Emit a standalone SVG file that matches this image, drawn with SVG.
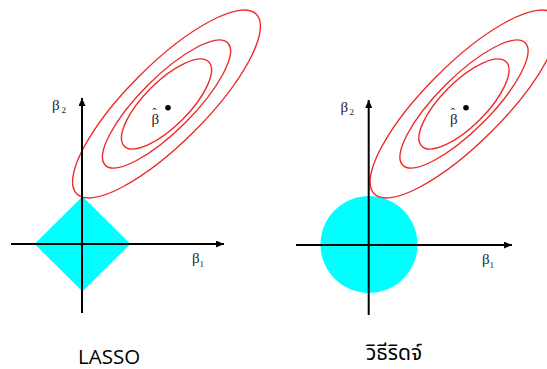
<svg xmlns="http://www.w3.org/2000/svg" width="547" height="369" viewBox="0 0 547 369">
<style>
  .bg { fill: #ffffff; }
  .region { fill: #00ffff; stroke: none; }
  .axis { stroke: #000000; stroke-width: 2; fill: none; }
  .contour { fill: none; stroke: #ee2a2a; stroke-width: 1.4; }
  .beta { font-family: "Liberation Serif", "DejaVu Serif", serif; font-size: 15px; fill: #22222e; }
  .sub { font-family: "Liberation Serif", "DejaVu Serif", serif; font-size: 9px; fill: #22222e; }
  .hat { font-size: 13px; }
  .title { font-family: "Open Sans", "Noto Sans", "Liberation Sans", sans-serif; font-size: 20.5px; fill: #000000; }
  .thai { font-family: "Noto Sans Thai", "Noto Sans Thai Looped", "Tahoma", "DejaVu Sans", "Noto Sans", sans-serif; font-size: 21px; fill: #000000; }
</style>
<defs>
  <marker id="arrow" markerUnits="userSpaceOnUse" markerWidth="9" markerHeight="8" refX="8" refY="3.5" orient="auto">
    <path d="M0,0 L8,3.5 L0,7 z" fill="#000000"/>
  </marker>
</defs>
<rect class="bg" x="0" y="0" width="547" height="369"/>

<!-- LASSO panel -->
<g id="lasso-region">
  <polygon class="region" points="82.5,196.5 130.5,244 82.5,291.5 34.5,244"/>
</g>
<g id="lasso-contours">
  <ellipse class="contour" cx="166.5" cy="104" rx="127" ry="39" transform="rotate(-45 166.5 104)"/>
  <ellipse class="contour" cx="166.5" cy="104" rx="86.5" ry="26.5" transform="rotate(-45 166.5 104)"/>
  <ellipse class="contour" cx="166.5" cy="104" rx="59.6" ry="22.3" transform="rotate(-45 166.5 104)"/>
</g>
<g id="lasso-axes" class="connectors">
  <line class="axis" x1="82" y1="313" x2="82" y2="98" marker-end="url(#arrow)"/>
  <line class="axis" x1="11" y1="244" x2="224" y2="244" marker-end="url(#arrow)"/>
</g>
<g id="lasso-labels">
  <text class="beta" x="52" y="110">β</text><text class="sub" x="61.5" y="113">2</text>
  <text class="beta" x="192" y="263">β</text><text class="sub" x="199.5" y="267">1</text>
  <text class="beta" x="151.5" y="124">β<tspan class="hat" dx="-6.8" dy="-7">ˆ</tspan></text>
  <circle cx="168" cy="107.7" r="2.8" fill="#000000"/>
  <text class="title" x="78" y="364">LASSO</text>
</g>

<!-- Ridge panel -->
<g id="ridge-region">
  <circle class="region" cx="369" cy="244.5" r="48.5"/>
</g>
<g id="ridge-contours">
  <ellipse class="contour" cx="464" cy="104" rx="127" ry="39" transform="rotate(-45 464 104)"/>
  <ellipse class="contour" cx="464" cy="104" rx="86.5" ry="26.5" transform="rotate(-45 464 104)"/>
  <ellipse class="contour" cx="464" cy="104" rx="59.6" ry="22.3" transform="rotate(-45 464 104)"/>
</g>
<g id="ridge-axes" class="connectors">
  <line class="axis" x1="368.7" y1="315" x2="368.7" y2="100" marker-end="url(#arrow)"/>
  <line class="axis" x1="296" y1="245" x2="512" y2="245" marker-end="url(#arrow)"/>
</g>
<g id="ridge-labels">
  <text class="beta" x="340.5" y="112">β</text><text class="sub" x="349.5" y="115">2</text>
  <text class="beta" x="482" y="264">β</text><text class="sub" x="489.5" y="268">1</text>
  <text class="beta" x="450" y="124">β<tspan class="hat" dx="-6.8" dy="-7">ˆ</tspan></text>
  <circle cx="466" cy="107.7" r="2.8" fill="#000000"/>
  <text class="thai" x="366" y="360">วิธีริดจ์</text>
</g>
</svg>
